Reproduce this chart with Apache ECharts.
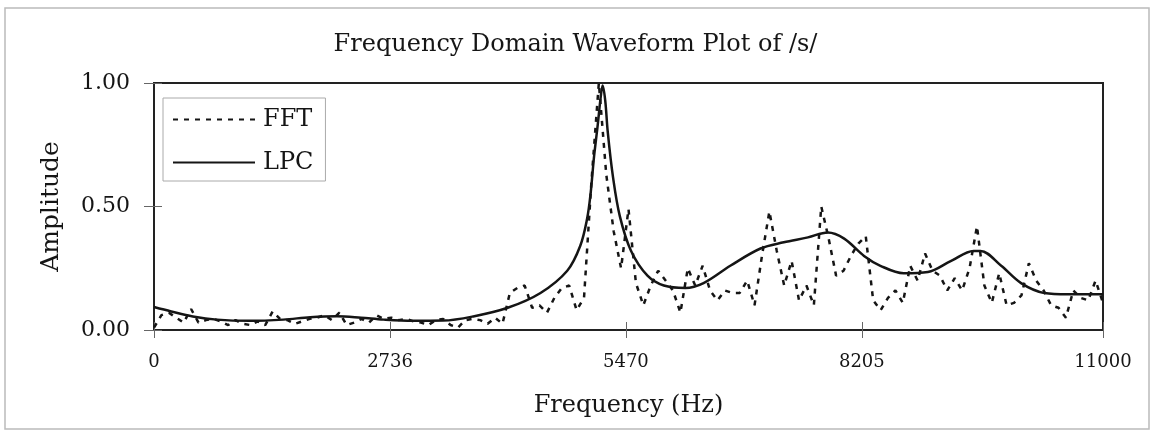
<!DOCTYPE html>
<html>
<head>
<meta charset="utf-8">
<title>Frequency Domain Waveform Plot of /s/</title>
<script src="https://cdn.jsdelivr.net/npm/echarts@6/dist/echarts.min.js"></script>
<style>
  html, body { margin: 0; padding: 0; background: #fff; }
  #chart { width: 1151px; height: 431px; }
</style>
</head>
<body>
<div id="chart"></div>
<script>
// x tick labels (Hz) as printed on the axis
var xTicks = [0, 2736, 5470, 8205, 11000];

// FFT magnitude, one value per bin, 0..11000 Hz in 128 steps
var fftBinHz = 11000 / 128;
var fftAmp = [
  0.01, 0.06, 0.07, 0.05, 0.03, 0.085, 0.03, 0.04, 0.045, 0.035,
  0.02, 0.04, 0.025, 0.02, 0.035, 0.02, 0.075, 0.045, 0.04, 0.025,
  0.035, 0.045, 0.05, 0.06, 0.04, 0.07, 0.02, 0.03, 0.045, 0.03,
  0.06, 0.045, 0.05, 0.04, 0.045, 0.035, 0.03, 0.02, 0.04, 0.045,
  0.02, 0.01, 0.04, 0.045, 0.04, 0.025, 0.05, 0.025, 0.15, 0.17,
  0.18, 0.09, 0.1, 0.07, 0.13, 0.17, 0.18, 0.08, 0.13, 0.6,
  1.0, 0.63, 0.4, 0.25, 0.49, 0.19, 0.1, 0.18, 0.24, 0.2,
  0.16, 0.07, 0.25, 0.18, 0.26, 0.16, 0.12, 0.16, 0.15, 0.15,
  0.2, 0.1, 0.3, 0.48, 0.32, 0.18, 0.28, 0.12, 0.18, 0.1,
  0.5, 0.37, 0.22, 0.24, 0.3, 0.35, 0.38, 0.12, 0.08, 0.13,
  0.16, 0.11, 0.26, 0.2, 0.31, 0.24, 0.22, 0.16, 0.21, 0.16,
  0.25, 0.42, 0.18, 0.11, 0.23, 0.1, 0.11, 0.14, 0.27, 0.2,
  0.16, 0.1, 0.09, 0.05, 0.16, 0.13, 0.12, 0.2, 0.11
];

// LPC envelope
var lpcFreq = [0, 200, 450, 730, 1110, 1500, 1810, 2120, 2400, 2660,
  3000, 3350, 3700, 4100, 4480, 4790, 4940, 5020, 5060, 5100,
  5140, 5180, 5200, 5230, 5260, 5320, 5400, 5530, 5720, 5910,
  6160, 6370, 6680, 7030, 7300, 7580, 7810, 8000, 8230, 8420,
  8690, 8970, 9240, 9500, 9580, 9820, 10050, 10320, 10590, 11000];
var lpcAmp = [0.093, 0.075, 0.055, 0.042, 0.037, 0.042, 0.052, 0.056, 0.05, 0.042,
  0.037, 0.038, 0.055, 0.09, 0.15, 0.24, 0.34, 0.45, 0.55, 0.7,
  0.82, 0.95, 0.99, 0.93, 0.8, 0.62, 0.46, 0.32, 0.22, 0.18,
  0.17, 0.19, 0.26, 0.33, 0.355, 0.375, 0.395, 0.37, 0.3, 0.26,
  0.23, 0.235, 0.28, 0.32, 0.32, 0.26, 0.19, 0.15, 0.145, 0.145];

var FONT = '"DejaVu Serif", "Liberation Serif", serif';
var INK = '#151515';

function pairs(xs, ys){
  return ys.map(function(v, i){ return [xs[i], v]; });
}
var fftData = fftAmp.map(function(v, i){ return [i * fftBinHz, v]; });
var lpcData = pairs(lpcFreq, lpcAmp);

var chart = echarts.init(document.getElementById('chart'), null, {renderer: 'canvas'});

var baseX = {
  type: 'value', min: 0, max: 11000, position: 'bottom',
  splitLine: {show: false}
};
var baseY = {
  type: 'value', min: 0, max: 1, interval: 0.5, position: 'left',
  splitLine: {show: false}
};

chart.setOption({
  backgroundColor: '#fff',
  animation: false,
  title: {
    text: 'Frequency Domain Waveform Plot of /s/',
    left: 'center', top: 28,
    textStyle: {fontFamily: FONT, fontSize: 24, fontWeight: 'normal', color: INK}
  },
  legend: {
    orient: 'vertical', left: 163, top: 98,
    padding: [8, 12, 5, 9],
    itemWidth: 82, itemHeight: 14, itemGap: 16,
    backgroundColor: '#fff', borderColor: '#aaa', borderWidth: 1,
    itemStyle: {color: 'transparent', borderColor: 'transparent', borderWidth: 0, opacity: 0},
    textStyle: {fontFamily: FONT, fontSize: 24, color: INK, lineHeight: 27, padding: [0, 0, 0, 3]},
    data: ['FFT', 'LPC']
  },
  grid: {
    left: 154, top: 83, width: 949, height: 247,
    show: true, borderColor: '#222', borderWidth: 2, backgroundColor: 'transparent'
  },
  xAxis: [
    Object.assign({}, baseX, {
      name: 'Frequency (Hz)', nameLocation: 'middle', nameGap: 64,
      nameTextStyle: {fontFamily: FONT, fontSize: 24, color: INK},
      axisLine: {show: true, lineStyle: {color: '#222', width: 2}},
      axisTick: {show: true, length: 8, customValues: xTicks, lineStyle: {color: '#666', width: 1}},
      axisLabel: {
        customValues: xTicks, margin: 23,
        fontFamily: FONT, fontSize: 18, color: INK,
        formatter: function(v){ return String(Math.round(v)); }
      }
    }),
    // inner half of the crossing ticks
    Object.assign({}, baseX, {
      axisLine: {show: false},
      axisTick: {show: true, inside: true, length: 8, customValues: xTicks, lineStyle: {color: '#666', width: 1}},
      axisLabel: {show: false}
    })
  ],
  yAxis: [
    Object.assign({}, baseY, {
      name: 'Amplitude', nameLocation: 'middle', nameGap: 90, nameRotate: 90,
      nameTextStyle: {fontFamily: FONT, fontSize: 25, color: INK},
      axisLine: {show: true, lineStyle: {color: '#222', width: 2}},
      axisTick: {show: true, length: 10, lineStyle: {color: '#666', width: 1}},
      axisLabel: {
        margin: 24, fontFamily: FONT, fontSize: 22, color: INK,
        formatter: function(v){ return v.toFixed(2); }
      }
    }),
    Object.assign({}, baseY, {
      axisLine: {show: false},
      axisTick: {show: true, inside: true, length: 8, lineStyle: {color: '#666', width: 1}},
      axisLabel: {show: false}
    })
  ],
  series: [
    {
      name: 'FFT', type: 'line', data: fftData,
      symbol: 'none', clip: true,
      lineStyle: {color: INK, width: 2.5, type: [5, 6]},
      itemStyle: {color: INK}
    },
    {
      name: 'LPC', type: 'line', data: lpcData,
      symbol: 'none', smooth: 0.35, clip: true,
      lineStyle: {color: INK, width: 2.5, type: 'solid'},
      itemStyle: {color: INK}
    }
  ],
  graphic: [{
    type: 'rect', silent: true, z: -1,
    shape: {x: 5, y: 8, width: 1144, height: 421},
    style: {fill: 'none', stroke: '#bbb', lineWidth: 1.5}
  }]
});
</script>
</body>
</html>
